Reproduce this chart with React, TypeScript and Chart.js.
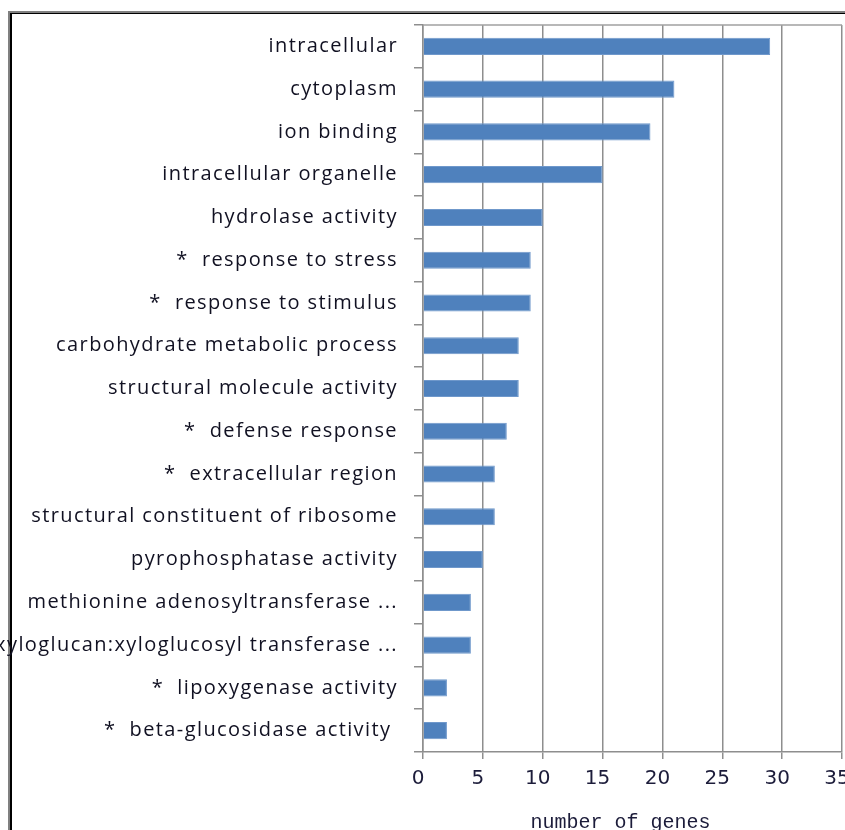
import React, { useEffect, useRef } from "react";
import { Chart, registerables } from "chart.js";

Chart.register(...registerables);

const categories: string[] = [
  "intracellular",
  "cytoplasm",
  "ion binding",
  "intracellular organelle",
  "hydrolase activity",
  "*  response to stress",
  "*  response to stimulus",
  "carbohydrate metabolic process",
  "structural molecule activity",
  "*  defense response",
  "*  extracellular region",
  "structural constituent of ribosome",
  "pyrophosphatase activity",
  "methionine adenosyltransferase ...",
  "xyloglucan:xyloglucosyl transferase ...",
  "*  lipoxygenase activity",
  "*  beta-glucosidase activity ",
];

const geneCounts: number[] = [29, 21, 19, 15, 10, 9, 9, 8, 8, 7, 6, 6, 5, 4, 4, 2, 2];

const xTicks: number[] = [0, 5, 10, 15, 20, 25, 30, 35];
const xTitle = "number of genes  ";

const spacingPlugin = {
  id: "spacing",
  beforeDraw(chart: any) {
    chart.ctx.letterSpacing = "0px";
  },
  afterDatasetsDraw(chart: any) {
    const { ctx, chartArea } = chart;
    ctx.save();
    ctx.strokeStyle = "#a0a0a0";
    ctx.lineWidth = 1.5;
    ctx.beginPath();
    ctx.moveTo(chartArea.left, chartArea.top);
    ctx.lineTo(chartArea.right, chartArea.top);
    ctx.stroke();
    ctx.restore();
    ctx.letterSpacing = "1.4px";
  },
  afterDraw(chart: any) {
    chart.ctx.letterSpacing = "0px";
  },
};

export default function App() {
  const ref = useRef<HTMLCanvasElement | null>(null);

  useEffect(() => {
    if (!ref.current) return;
    const chart = new Chart(ref.current, {
      type: "bar",
      data: {
        labels: categories,
        datasets: [
          {
            data: geneCounts,
            backgroundColor: "#4F81BD",
            borderColor: "#6f98cb",
            borderWidth: 1,
            barPercentage: 0.4,
            categoryPercentage: 1,
          },
        ],
      },
      options: {
        indexAxis: "y",
        animation: false,
        responsive: false,
        maintainAspectRatio: false,
        layout: { padding: { top: 25, right: 3, left: 0, bottom: 0 } },
        plugins: {
          legend: { display: false },
          tooltip: { enabled: false },
          title: { display: false },
        },
        scales: {
          x: {
            type: "linear",
            min: 0,
            max: 35,
            afterBuildTicks: (scale: any) => {
              scale.ticks = xTicks.map((v) => ({ value: v }));
            },
            afterFit: (scale: any) => {
              scale.height = 98;
              scale.paddingLeft = 0;
              scale.paddingRight = 0;
            },
            grid: {
              color: "#8e8e8e",
              lineWidth: 1.5,
              tickLength: 7,
              drawTicks: true,
            },
            border: { color: "#8e8e8e", width: 1.5 },
            ticks: {
              padding: 8,
              labelOffset: -5,
              color: "#1c1c3a",
              font: { family: "DejaVu Sans", size: 20 },
            },
            title: {
              display: true,
              text: xTitle,
              color: "#1c1c3a",
              padding: { top: 0, bottom: 15 },
              font: { family: "Liberation Mono", size: 20 },
            },
          },
          y: {
            afterFit: (scale: any) => {
              scale.width = 423;
              scale.paddingTop = 0;
              scale.paddingBottom = 0;
            },
            grid: {
              drawOnChartArea: false,
              drawTicks: true,
              tickLength: 9,
              color: "#8e8e8e",
              lineWidth: 1.5,
            },
            border: { color: "#8e8e8e", width: 1.5 },
            ticks: {
              z: 1,
              padding: 16,
              color: "#111122",
              autoSkip: false,
              font: { family: "Open Sans", size: 20 },
            },
          },
        },
      },
      plugins: [spacingPlugin],
    });
    return () => chart.destroy();
  }, []);

  return (
    <div
      style={{
        position: "fixed",
        left: 0,
        top: 0,
        width: 845,
        height: 830,
        overflow: "hidden",
        background: "#ffffff",
      }}
    >
      <div
        style={{
          position: "absolute",
          left: 8,
          top: 11,
          width: 900,
          height: 900,
          borderTop: "2px solid #808080",
          borderLeft: "2px solid #808080",
        }}
      >
        <div
          style={{
            position: "absolute",
            left: 0,
            top: 0,
            width: 900,
            height: 900,
            borderTop: "1px solid #000",
            borderLeft: "2px solid #000",
          }}
        />
      </div>
      <canvas
        ref={ref}
        width={845}
        height={850}
        style={{ position: "absolute", left: 0, top: 0, width: 845, height: 850 }}
      />
    </div>
  );
}
